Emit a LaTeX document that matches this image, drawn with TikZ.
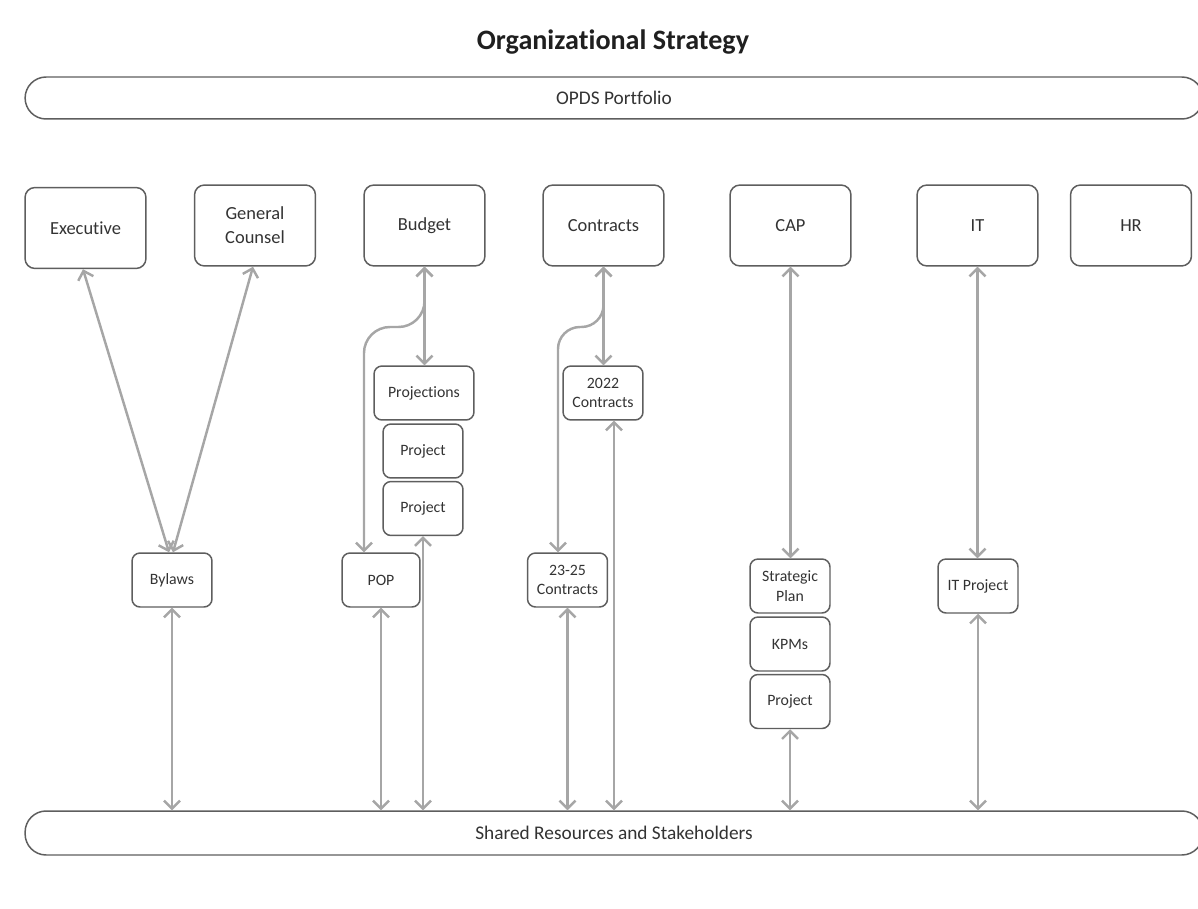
\documentclass[tikz,border=0pt]{standalone}
\usepackage{fontspec}
\setmainfont{Carlito}[RawFeature={-liga;-clig;-calt;-dlig}]
\usetikzlibrary{arrows.meta,calc}
\definecolor{boxline}{HTML}{5E5E5E}
\definecolor{boxtext}{HTML}{333333}
\definecolor{linkgray}{HTML}{A6A6A6}
\begin{document}
\begin{tikzpicture}[x=0.02cm,y=-0.02cm,
  unitbox/.style={draw=boxline,line width=0.85pt,rounded corners=0.2cm,fill=white,
    text=boxtext,align=center,inner sep=0pt,
    minimum width=2.42cm,minimum height=1.62cm,
    font=\fontsize{10.5}{13.5}\selectfont},
  itembox/.style={draw=boxline,line width=0.85pt,rounded corners=0.16cm,fill=white,
    text=boxtext,align=center,inner sep=0pt,
    minimum width=1.6cm,minimum height=1.08cm,
    font=\fontsize{9}{11}\selectfont},
  band/.style={draw=boxline,line width=0.85pt,rounded corners=0.42cm,fill=white,
    text=boxtext,inner sep=0pt,minimum width=23.56cm,
    font=\fontsize{11}{13}\selectfont},
  link/.style={draw=linkgray,line width=1.4pt,
    {Straight Barb[length=4.5pt,width=9pt]}-{Straight Barb[length=4.5pt,width=9pt]}},
  bentlink/.style={link,rounded corners=0.52cm},
  headline/.style={font=\bfseries\fontsize{16}{19}\selectfont,text=black!88}]

\useasboundingbox (0,0) rectangle (1198,909);

% title and horizontal bands
\node[headline] (title) at (613,42) {Organizational Strategy};
\node[band,minimum height=0.84cm] (portfolio) at (614,98) {OPDS Portfolio};
\node[band,minimum height=0.88cm] (shared) at (614,833) {Shared Resources and Stakeholders};

% divisions
\node[unitbox] (exec)      at (85.5,228)   {Executive};
\node[unitbox] (counsel)   at (255,225.5)  {General\\Counsel};
\node[unitbox] (budget)    at (424.5,225.5){Budget};
\node[unitbox] (contracts) at (603.5,225.5){Contracts};
\node[unitbox] (cap)       at (790.5,225.5){CAP};
\node[unitbox] (it)        at (977.5,225.5){IT};
\node[unitbox] (hr)        at (1131,225.5) {HR};

% work items
\node[itembox] (bylaws)   at (172,580)   {Bylaws};
\node[itembox,minimum width=1.56cm] (pop) at (381,580) {POP};
\node[itembox,minimum width=2cm] (projections) at (424,393) {Projections};
\node[itembox] (budproj1) at (423,451)   {Project};
\node[itembox] (budproj2) at (423,508.5) {Project};
\node[itembox] (c2022)    at (603,393)   {2022\\Contracts};
\node[itembox] (c2325)    at (567.5,580) {23-25\\Contracts};
\node[itembox] (stratplan) at (790,586)  {Strategic\\Plan};
\node[itembox] (kpms)     at (790,644)   {KPMs};
\node[itembox] (capproj)  at (790,701.5) {Project};
\node[itembox] (itproj)   at (978,586)   {IT Project};

% helper points for the side branches
\coordinate (budgetbend) at (0,327);
\coordinate (popin) at ([xshift=-0.34cm]pop.north);
\coordinate (contractbend) at (0,327);
\coordinate (c2325in) at ([xshift=-0.19cm]c2325.north);
\coordinate (c2022out) at ([xshift=0.22cm]c2022.south);

% executive and counsel to bylaws
\draw[link] ([xshift=-0.05cm]exec.south) -- ([xshift=-0.06cm]bylaws.north);
\draw[link] ([xshift=-0.04cm]counsel.south) -- ([xshift=0.02cm]bylaws.north);
\draw[link] (bylaws.south) -- (bylaws.south |- shared.north);

% budget
\draw[link] (budget.south) -- (budget.south |- projections.north);
\draw[bentlink] (budget.south) -- (budget.south |- budgetbend)
  -- (popin |- budgetbend) -- (popin);
\draw[link] (pop.south) -- (pop.south |- shared.north);
\draw[link] (budproj2.south) -- (budproj2.south |- shared.north);

% contracts
\draw[link] (contracts.south) -- (contracts.south |- c2022.north);
\draw[link,rounded corners=0.44cm] (contracts.south) -- (contracts.south |- contractbend)
  -- (c2325in |- contractbend) -- (c2325in);
\draw[link] (c2325.south) -- (c2325.south |- shared.north);
\draw[link] (c2022out) -- (c2022out |- shared.north);

% CAP
\draw[link] (cap.south) -- (cap.south |- stratplan.north);
\draw[link] (capproj.south) -- (capproj.south |- shared.north);

% IT
\draw[link] (it.south) -- (it.south |- itproj.north);
\draw[link] (itproj.south) -- (itproj.south |- shared.north);

\end{tikzpicture}
\end{document}
